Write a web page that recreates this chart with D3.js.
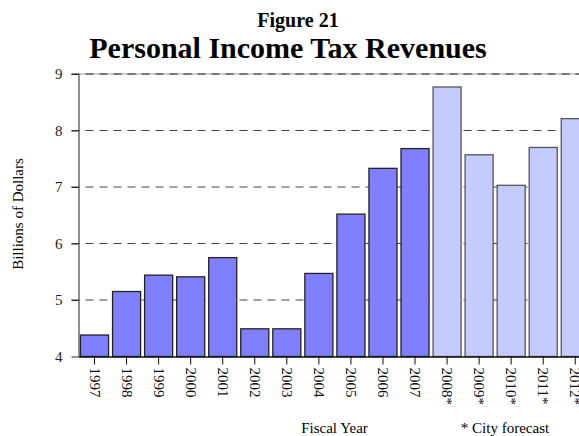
<!DOCTYPE html>
<html><head><meta charset="utf-8">
<script src="https://cdn.jsdelivr.net/npm/d3@7"></script>
<style>body{margin:0;background:#fff}svg{display:block;font-family:"Liberation Serif","Times New Roman",serif}</style>
</head><body><svg id="c" width="579" height="436"></svg>
<script>
const years = ["1997","1998","1999","2000","2001","2002","2003","2004","2005","2006","2007","2008*","2009*","2010*","2011*","2012*"];
const values = [4.38,5.15,5.44,5.41,5.75,4.49,4.49,5.47,6.52,7.33,7.68,8.77,7.57,7.03,7.70,8.21];
const forecast = [false,false,false,false,false,false,false,false,false,false,false,true,true,true,true,true];
const yTicks = [4,5,6,7,8,9];

const svg = d3.select("#c");
const pLeft = 78.5, pTop = 74, pBottom = 356.5;
const x = d3.scaleBand().domain(years).range([pLeft, pLeft + 16*32.05]).paddingInner(0.125).paddingOuter(0.0625);
const y = d3.scaleLinear().domain([4,9]).range([pBottom, pTop]);

// top frame line (solid light) under dashed grid
svg.append("line").attr("x1", pLeft).attr("x2", 579).attr("y1", y(9)).attr("y2", y(9))
  .attr("stroke","#999").attr("stroke-width",1.2);
// grid
svg.append("g").selectAll("line").data(yTicks.filter(d=>d>4)).join("line")
  .attr("x1", pLeft-7).attr("x2", 579).attr("y1", d=>y(d)).attr("y2", d=>y(d))
  .attr("stroke", d=>d===9?"#222":"#444").attr("stroke-width",1.1).attr("stroke-dasharray","8,6");

// bars
svg.append("g").selectAll("rect").data(years).join("rect")
  .attr("x", d=>x(d)).attr("width", x.bandwidth())
  .attr("y", (d,i)=>y(values[i])).attr("height", (d,i)=>pBottom - y(values[i]))
  .attr("fill", (d,i)=>forecast[i]?"#c3cbff":"#8080ff")
  .attr("stroke", (d,i)=>forecast[i]?"#555":"#222").attr("stroke-width",1.3);

// y axis
const ya = svg.append("g").attr("transform",`translate(${pLeft},0)`)
  .call(d3.axisLeft(y).tickValues(yTicks).tickFormat(d3.format("d")).tickSize(7).tickSizeOuter(0));
ya.select(".domain").attr("stroke","#222");
ya.selectAll(".tick line").attr("stroke","#222");
ya.selectAll("text").attr("font-family","Liberation Serif").attr("font-size",15).attr("fill","#222").attr("x",-16);

// x axis
const xa = svg.append("g").attr("transform",`translate(0,${pBottom})`)
  .call(d3.axisBottom(x).tickSize(8).tickSizeOuter(0));
xa.select(".domain").attr("stroke","#111").attr("stroke-width",1.3);
xa.selectAll(".tick line").attr("stroke","#111");
xa.selectAll("text").attr("font-family","Liberation Serif").attr("font-size",15).attr("fill","#111")
  .attr("transform","rotate(90)").attr("text-anchor","start").attr("dy","0.32em").attr("x",11).attr("y",0);

// titles
svg.append("text").attr("x",298).attr("y",27).attr("text-anchor","middle")
  .attr("font-weight","bold").attr("font-size",20).text("Figure 21");
svg.append("text").attr("x",288).attr("y",58).attr("text-anchor","middle")
  .attr("font-weight","bold").attr("font-size",30).text("Personal Income Tax Revenues");
svg.append("text").attr("transform","translate(23,214) rotate(-90)").attr("text-anchor","middle")
  .attr("font-size",15).text("Billions of Dollars");
svg.append("text").attr("x",334.5).attr("y",433).attr("text-anchor","middle")
  .attr("font-size",15).text("Fiscal Year");
svg.append("text").attr("x",505).attr("y",433).attr("text-anchor","middle")
  .attr("font-size",15).text("* City forecast");
</script></body></html>
